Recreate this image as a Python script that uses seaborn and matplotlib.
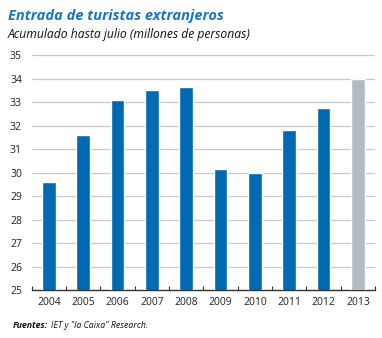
import matplotlib
matplotlib.use("Agg")
import matplotlib.pyplot as plt
import seaborn as sns
import pandas as pd
from matplotlib.ticker import FixedLocator

years = ["2004", "2005", "2006", "2007", "2008", "2009", "2010", "2011", "2012", "2013"]
values = [29.6, 31.6, 33.1, 33.5, 33.65, 30.15, 30.0, 31.8, 32.75, 34.0]
yticks = list(range(25, 36))

BLUE = "#0069B4"
GREY = "#B1BCC2"
colors = [BLUE] * 9 + [GREY]

sns.set_theme(style="white")
plt.rcParams["font.family"] = ["Liberation Sans Narrow", "Open Sans", "DejaVu Sans"]

df = pd.DataFrame({"year": years, "value": values})

fig = plt.figure(figsize=(3.82, 3.38), dpi=100)
ax = fig.add_axes([0.083, 0.142, 0.899, 0.695])

sns.barplot(data=df, x="year", y="value", hue="year", palette=colors,
            legend=False, width=0.4, ax=ax, saturation=1, zorder=3)

ax.set_ylim(25, 35)
ax.set_xlim(-0.5, len(years) - 0.5)
ax.set_yticks(yticks)
ax.yaxis.grid(True, color="#C9C9C9", linewidth=0.9, zorder=0)
ax.set_axisbelow(True)
ax.set_xlabel("")
ax.set_ylabel("")
for s in ["left", "right", "top"]:
    ax.spines[s].set_visible(False)
ax.spines["bottom"].set_color("#333333")
ax.spines["bottom"].set_linewidth(1.0)
ax.tick_params(axis="y", length=0, labelsize=7.5, pad=7, colors="#222222")
ax.tick_params(axis="x", length=0, labelsize=7.5, pad=5, colors="#222222")
ax.xaxis.set_minor_locator(FixedLocator([i + 0.5 for i in range(-1, len(years))]))
ax.tick_params(axis="x", which="minor", direction="in", length=3, width=0.8, color="#333333", bottom=True)

fig.text(0.021, 0.952, "Entrada de turistas extranjeros", color="#1B75C2",
         fontsize=10.5, fontweight="bold", fontstyle="italic", va="center", ha="left")
fig.text(0.021, 0.898, "Acumulado hasta julio (millones de personas)", color="#111111",
         fontsize=8.7, fontstyle="italic", va="center", ha="left")
t1 = fig.text(0.034, 0.036, "Fuentes:", color="#111111", fontsize=6.3, fontweight="bold",
              fontstyle="italic", va="center", ha="left")
fig.canvas.draw()
bb = t1.get_window_extent(renderer=fig.canvas.get_renderer())
x2 = (bb.x1 + 3) / fig.bbox.width
fig.text(x2, 0.036, "IET y \"la Caixa\" Research.", color="#111111", fontsize=6.3,
         fontstyle="italic", va="center", ha="left")

fig.savefig("out.png", dpi=100, facecolor="white")
